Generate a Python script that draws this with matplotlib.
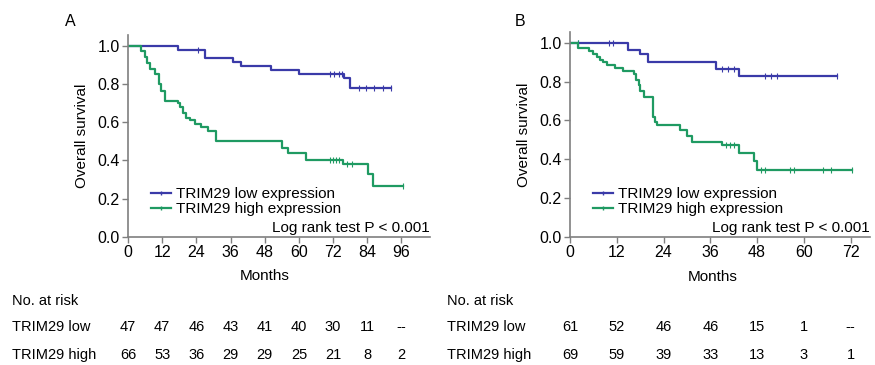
'''
Kaplan-Meier overall survival by TRIM29 expression, two cohorts (A, B).
'''

import numpy as np
import matplotlib
matplotlib.use('Agg')
import matplotlib.pyplot as plt
from matplotlib.lines import Line2D
import matplotlib.transforms as mtransforms

plt.rcParams['font.family'] = ['Liberation Sans', 'DejaVu Sans']

BLUE = '#3a3aa8'
GREEN = '#1f9a62'
GREY = '#7f7f7f'

# ---- cohort A (months, survival) ----
a_low_t = [0, 17.6, 27.2, 36.9, 39.8, 50.1, 60.0, 76.0, 78.0, 92.5]
a_low_s = [1.0, 0.979, 0.936, 0.915, 0.894, 0.872, 0.851, 0.830, 0.780, 0.780]
a_low_cens = [24.6, 71.0, 72.5, 74.0, 75.2, 81.0, 83.5, 86.5, 89.5, 92.5]

a_high_t = [0, 4.7, 5.9, 6.7, 7.8, 9.4, 10.9, 11.7, 12.9, 17.6, 18.4, 19.3,
            20.3, 21.7, 23.4, 25.8, 28.1, 31.0, 54.2, 56.2, 62.6, 75.5,
            84.3, 86.0, 96.6]
a_high_s = [1.0, 0.97, 0.94, 0.91, 0.88, 0.85, 0.80, 0.76, 0.71, 0.70, 0.68,
            0.65, 0.62, 0.61, 0.59, 0.576, 0.555, 0.50, 0.465, 0.437, 0.40,
            0.38, 0.33, 0.265, 0.265]
a_high_cens = [71.0, 72.0, 73.0, 74.0, 77.0, 78.5, 96.6]

# ---- cohort B ----
b_low_t = [0, 15.0, 18.0, 20.1, 37.5, 43.3, 68.6]
b_low_s = [1.0, 0.962, 0.94, 0.902, 0.863, 0.83, 0.83]
b_low_cens = [2.0, 10.0, 11.0, 39.0, 40.5, 42.0, 50.0, 51.5, 53.0, 68.6]

b_high_t = [0, 2.1, 5.0, 6.0, 6.9, 7.7, 8.6, 9.4, 11.6, 13.7, 16.3, 17.0,
            17.6, 18.0, 18.9, 21.4, 21.8, 22.3, 28.3, 30.0, 31.3, 39.0,
            43.3, 47.1, 48.0, 72.4]
b_high_s = [1.0, 0.971, 0.957, 0.942, 0.928, 0.913, 0.899, 0.884, 0.870,
            0.855, 0.84, 0.81, 0.78, 0.75, 0.72, 0.62, 0.594, 0.575, 0.55,
            0.52, 0.49, 0.475, 0.43, 0.39, 0.345, 0.345]
b_high_cens = [2.0, 40.0, 41.0, 42.0, 49.0, 50.0, 56.5, 57.5, 65.0, 67.0, 72.4]

# ---- numbers at risk ----
a_risk_months = [0, 12, 24, 36, 48, 60, 72, 84, 96]
a_risk_low = ['47', '47', '46', '43', '41', '40', '30', '11', '--']
a_risk_high = ['66', '53', '36', '29', '29', '25', '21', '8', '2']

b_risk_months = [0, 12, 24, 36, 48, 60, 72]
b_risk_low = ['61', '52', '46', '46', '15', '1', '--']
b_risk_high = ['69', '59', '39', '33', '13', '3', '1']


def surv_at(t, s, x):
    idx = np.searchsorted(t, x, side='right') - 1
    return np.asarray(s)[idx]


def km_panel(ax, low, high, xmax, ticks):
    for (t, s, c), col in zip((low, high), (BLUE, GREEN)):
        ax.step(t, s, where='post', color=col, lw=1.6)
        ax.plot(c, surv_at(t, s, c), ls='none', marker='|', ms=4,
                mew=0.8, color=col)
    ax.set_xlim(0, xmax)
    ax.set_ylim(0, 1.055)
    ax.set_xticks(ticks)
    ax.set_yticks(np.arange(0, 1.01, 0.2))
    ax.set_yticklabels([f'{v:.1f}' for v in np.arange(0, 1.01, 0.2)])
    for side in ('top', 'right'):
        ax.spines[side].set_visible(False)
    for side in ('left', 'bottom'):
        ax.spines[side].set_color(GREY)
        ax.spines[side].set_linewidth(1.2)
    ax.tick_params(colors=GREY, labelcolor='black', labelsize=11.5,
                   length=4, width=1, pad=2)
    ax.set_ylabel('Overall survival', fontsize=11)
    ax.set_xlabel('Months', fontsize=11)

    handles = [Line2D([0], [0], color=BLUE, lw=1.6, marker='|', ms=3),
               Line2D([0], [0], color=GREEN, lw=1.6, marker='|', ms=3)]
    ax.legend(handles, ['TRIM29 low expression', 'TRIM29 high expression'],
              loc='lower left', bbox_to_anchor=(0.04, 0.05), frameon=False,
              fontsize=11, handlelength=1.3, handletextpad=0.35,
              labelspacing=0.05, borderpad=0.2)
    ax.text(1.0, 0.045, 'Log rank test P < 0.001', transform=ax.transAxes,
            ha='right', va='center', fontsize=11)


fig = plt.figure(figsize=(8.75, 3.65), dpi=100)
axA = fig.add_axes([0.1463, 0.3507, 0.345, 0.5534])
axB = fig.add_axes([0.6514, 0.3507, 0.343, 0.5616])

km_panel(axA, (a_low_t, a_low_s, a_low_cens),
         (a_high_t, a_high_s, a_high_cens), 106, a_risk_months)
km_panel(axB, (b_low_t, b_low_s, b_low_cens),
         (b_high_t, b_high_s, b_high_cens), 77, b_risk_months)

axA.yaxis.set_label_coords(-0.13, 0.5)
axB.yaxis.set_label_coords(-0.13, 0.5)
axA.xaxis.set_label_coords(0.454, -0.16)
axB.xaxis.set_label_coords(0.477, -0.16)

fig.text(0.08, 0.94, 'A', fontsize=11.5, ha='center', va='center')
fig.text(0.594, 0.94, 'B', fontsize=11.5, ha='center', va='center')

# at-risk table
tfont = dict(fontsize=10.5)
y_head, y_low, y_high = 1 - 301 / 365, 1 - 327 / 365, 1 - 355 / 365
for ax, x0, months, low, high in ((axA, 12, a_risk_months, a_risk_low, a_risk_high),
                                  (axB, 447, b_risk_months, b_risk_low, b_risk_high)):
    fx = x0 / 875
    fig.text(fx, y_head, 'No. at risk', ha='left', va='center', **tfont)
    fig.text(fx, y_low, 'TRIM29 low', ha='left', va='center', **tfont)
    fig.text(fx, y_high, 'TRIM29 high', ha='left', va='center', **tfont)
    trans = mtransforms.blended_transform_factory(ax.transData, fig.transFigure)
    for m, lo, hi in zip(months, low, high):
        fig.text(m, y_low, lo, transform=trans, ha='center', va='center', **tfont)
        fig.text(m, y_high, hi, transform=trans, ha='center', va='center', **tfont)

fig.savefig('out.png', dpi=100)
plt.close(fig)
